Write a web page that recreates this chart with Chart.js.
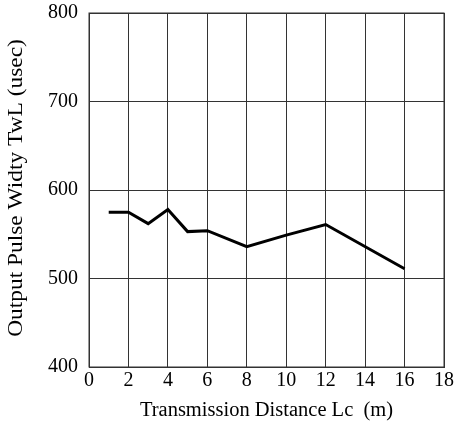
<!DOCTYPE html>
<html>
<head>
<meta charset="utf-8">
<script src="https://cdn.jsdelivr.net/npm/chart.js@4"></script>
<style>
  html, body { margin: 0; padding: 0; background: #fff; }
  #wrap { width: 458px; height: 423px; }
</style>
</head>
<body>
<div id="wrap"><canvas id="pulse"></canvas></div>
<script>
const distances = [1, 2, 3, 4, 5, 6, 8, 10, 12, 16];
const pulseWidth = [575, 575, 562, 578, 553, 554, 536, 549, 561, 511];
const xTitle = 'Transmission Distance Lc  (m)';
const yTitle = 'Output Pulse Widty TwL (usec)';

const serif = 'Liberation Serif, Times New Roman, serif';

const ctx = document.getElementById('pulse').getContext('2d');

// y title is drawn by hand: the original is a stretched serif face
const yTitlePlugin = {
  id: 'yTitle',
  afterDraw(chart) {
    const a = chart.chartArea;
    const c = chart.ctx;
    c.save();
    c.translate(17, (a.top + a.bottom) / 2 - 2);
    c.rotate(-Math.PI / 2);
    c.scale(1.17, 1);
    c.font = '20px ' + serif;
    c.fillStyle = '#000';
    c.textAlign = 'center';
    c.textBaseline = 'middle';
    c.fillText(yTitle, 0, 0);
    c.restore();
  }
};

const framePlugin = {
  id: 'frame',
  afterDraw(chart) {
    const a = chart.chartArea;
    const c = chart.ctx;
    c.save();
    c.strokeStyle = '#333';
    c.lineWidth = 1;
    c.strokeRect(a.left, a.top, a.right - a.left, a.bottom - a.top);
    c.restore();
  }
};

const config = {
  type: 'line',
  data: {
    datasets: [{
      data: distances.map((x, i) => ({ x, y: pulseWidth[i] })),
      borderColor: '#000',
      borderWidth: 3,
      pointRadius: 0,
      tension: 0,
      fill: false
    }]
  },
  options: {
    responsive: true,
    maintainAspectRatio: false,
    animation: false,
    layout: { padding: { top: 13, right: 14, left: 0, bottom: 0 } },
    plugins: { legend: { display: false }, tooltip: { enabled: false } },
    scales: {
      x: {
        type: 'linear',
        min: 0,
        max: 18,
        border: { color: '#333', width: 1 },
        grid: { color: '#333', lineWidth: 1, drawTicks: false },
        ticks: { stepSize: 2, color: '#000', padding: 2, font: { family: serif, size: 20 } },
        title: { display: true, text: xTitle, color: '#000', padding: { top: 5, bottom: 0 }, font: { family: serif, size: 20.5 } },
        afterFit: (scale) => {
          scale.height = 56;
          scale.paddingLeft = 0;
          scale.paddingRight = 0;
        }
      },
      y: {
        min: 400,
        max: 800,
        border: { color: '#333', width: 1 },
        grid: { color: '#333', lineWidth: 1, drawTicks: false },
        ticks: { stepSize: 100, color: '#000', padding: 11, font: { family: serif, size: 20 } },
        title: { display: false },
        afterFit: (scale) => {
          scale.width = 89;
          scale.paddingTop = 0;
          scale.paddingBottom = 0;
        }
      }
    }
  },
  plugins: [framePlugin, yTitlePlugin]
};

new Chart(ctx, config);
</script>
</body>
</html>
